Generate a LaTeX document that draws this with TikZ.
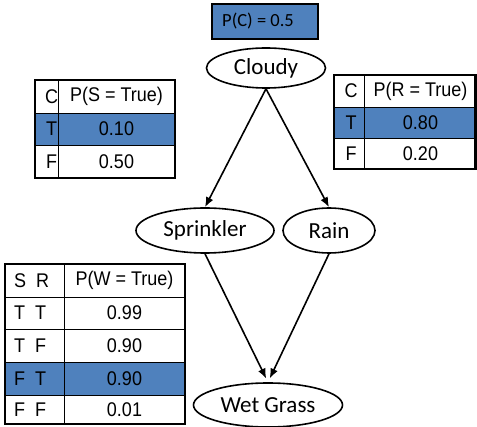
\documentclass[tikz,border=0pt]{standalone}
\usepackage{fontspec}
\usepackage{graphicx}
\setmainfont{Liberation Sans}
\newfontfamily\nodefont{Carlito}
\usetikzlibrary{shapes.geometric,arrows.meta}
\definecolor{cellblue}{HTML}{4F81BD}
% table entries are set slightly taller than wide
\newcommand\celltext[1]{\scalebox{1}[1.1]{#1}}

\begin{document}
\begin{tikzpicture}[x=1pt,y=-1pt,
  var/.style={ellipse,draw,line width=1.6pt,inner sep=0pt,
    font=\nodefont\fontsize{23}{23}\selectfont},
  edge/.style={-{Latex[length=10pt,width=8pt]},line width=1.6pt},
  cell/.style={inner sep=0pt,font=\fontsize{18}{18}\selectfont},
  outer/.style={line width=2.6pt},
  inner/.style={line width=0.9pt}]
\useasboundingbox (0,0) rectangle (477,427);

% prior of Cloudy
\node[draw,line width=1.6pt,fill=cellblue,minimum width=106pt,minimum height=35pt,inner sep=0pt]
  (prior) at (265,21.5) {};
\node[anchor=west,inner sep=0pt,font=\nodefont\fontsize{18.5}{18.5}\selectfont]
  (priortext) at (222,21.5) {P(C) = 0.5};

% variables
\node[var,minimum width=119pt,minimum height=40pt] (cloudy) at (266,68) {Cloudy};
\node[var,minimum width=138pt,minimum height=45pt] (sprinkler) at (205,230.5) {Sprinkler};
\node[var,minimum width=92pt,minimum height=45pt] (rain) at (329,230.5) {Rain};
\node[var,minimum width=149pt,minimum height=44pt] (wet) at (268,405) {Wet Grass};

% edges
\draw[edge] (cloudy.south) -- (sprinkler.north);
\draw[edge] (cloudy.south) -- (rain.north);
\draw[edge,shorten >=4pt] (sprinkler.south) -- (wet.north);
\draw[edge,shorten >=4pt] (rain.south) -- (wet.north);

% CPT of Sprinkler
\fill[cellblue] (35,113) rectangle (175,145);
\draw[inner] (35,113) -- (175,113) (35,145) -- (175,145) (58,80) -- (58,178);
\draw[outer] (35,80) rectangle (175,178);
\node[cell] (s-c) at (51.5,96.5) {\celltext{C}};
\node[cell] (s-p) at (116.5,96.5) {\celltext{P(S = True)}};
\node[cell] (s-t) at (51.5,129) {\celltext{T}};
\node[cell] (s-tv) at (116.5,129) {\celltext{0.10}};
\node[cell] (s-f) at (51.5,161.5) {\celltext{F}};
\node[cell] (s-fv) at (116.5,161.5) {\celltext{0.50}};

% CPT of Rain
\fill[cellblue] (334,107) rectangle (475.5,138);
\draw[inner] (334,107) -- (475.5,107) (334,138) -- (475.5,138) (364,75) -- (364,169);
\draw[outer] (334,75) rectangle (475.5,169);
\node[cell] (r-c) at (351,91) {\celltext{C}};
\node[cell] (r-p) at (420.5,91) {\celltext{P(R = True)}};
\node[cell] (r-t) at (351,122.5) {\celltext{T}};
\node[cell] (r-tv) at (420.5,122.5) {\celltext{0.80}};
\node[cell] (r-f) at (351,153.5) {\celltext{F}};
\node[cell] (r-fv) at (420.5,153.5) {\celltext{0.20}};

% CPT of Wet Grass
\fill[cellblue] (5,362) rectangle (185,395);
\draw[inner] (5,297) -- (185,297) (5,329) -- (185,329) (5,362) -- (185,362)
  (5,395) -- (185,395) (64,264) -- (64,424);
\draw[outer] (5,264) rectangle (185,424);
\node[cell,anchor=west] (w-sr) at (14,280.5) {\celltext{S\ \ R}};
\node[cell] (w-p) at (124.5,280.5) {\celltext{P(W = True)}};
\node[cell,anchor=west] (w-1) at (14,313) {\celltext{T\ \ T}};
\node[cell] (w-1v) at (124.5,313) {\celltext{0.99}};
\node[cell,anchor=west] (w-2) at (14,345.5) {\celltext{T\ \ F}};
\node[cell] (w-2v) at (124.5,345.5) {\celltext{0.90}};
\node[cell,anchor=west] (w-3) at (14,378.5) {\celltext{F\ \ T}};
\node[cell] (w-3v) at (124.5,378.5) {\celltext{0.90}};
\node[cell,anchor=west] (w-4) at (14,409.5) {\celltext{F\ \ F}};
\node[cell] (w-4v) at (124.5,409.5) {\celltext{0.01}};
\end{tikzpicture}
\end{document}
